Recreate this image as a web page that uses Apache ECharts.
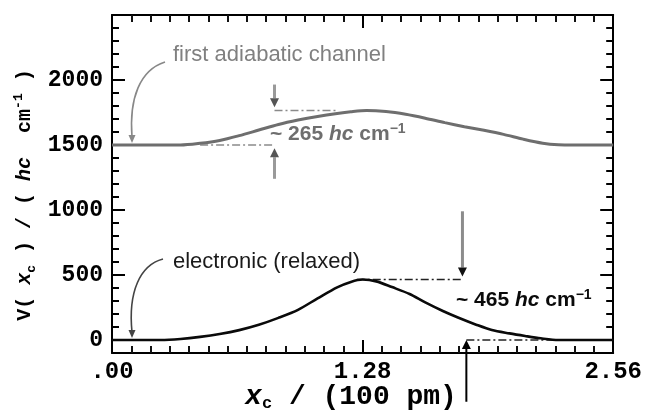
<!DOCTYPE html>
<html>
<head>
<meta charset="utf-8">
<script src="https://cdn.jsdelivr.net/npm/echarts@6/dist/echarts.min.js"></script>
<style>
  html, body { margin: 0; padding: 0; background: #fff; }
  #chart { width: 645px; height: 418px; }
</style>
</head>
<body>
<div id="chart"></div>
<script>
// Reaction coordinate x_c (units of 100 pm) and potential V (hc cm^-1)

// first adiabatic channel
const adiabaticX = [0, 0.35, 0.45, 0.55, 0.65, 0.75, 0.85, 0.95, 1.05, 1.15, 1.22, 1.30, 1.40, 1.50, 1.60, 1.70, 1.80, 1.90, 2.00, 2.10, 2.20, 2.28, 2.36, 2.56];
const adiabaticV = [1500, 1500, 1513, 1535, 1572, 1615, 1658, 1692, 1720, 1743, 1756, 1765, 1757, 1736, 1706, 1672, 1641, 1613, 1582, 1545, 1514, 1502, 1500, 1500];

// electronic (relaxed) potential
const electronicX = [0, 0.25, 0.35, 0.45, 0.55, 0.65, 0.75, 0.85, 0.95, 1.05, 1.15, 1.22, 1.28, 1.35, 1.43, 1.52, 1.60, 1.69, 1.77, 1.86, 1.94, 2.03, 2.11, 2.19, 2.28, 2.56];
const electronicV = [0, 0, 8, 24, 46, 76, 117, 170, 232, 320, 405, 447, 465, 451, 407, 354, 289, 223, 171, 118, 77, 51, 31, 13, 0, 0];

// barrier heights (asymptote, barrier top)
const adiabaticBarrier = [1500, 1765];
const electronicBarrier = [0, 465];

// axis ticks and labels
const xTickValues = [0, 1.28, 2.56];
const xTickLabels = ['.00', '1.28', '2.56'];
const yLabelValues = [0, 500, 1000, 1500, 2000];
const yTickLabels = ['0', '500', '1000', '1500', '2000'];

const monoFont = '"Liberation Mono", "DejaVu Sans Mono", monospace';
const sansFont = '"Liberation Sans", Arial, sans-serif';

const chart = echarts.init(document.getElementById('chart'), null, { renderer: 'canvas' });

function xAxisCfg(position, withLabels) {
  return {
    type: 'value', position: position, min: 0, max: 2.56, interval: 1.28,
    axisLine: { show: true, onZero: false, lineStyle: { color: '#000', width: 2 } },
    axisTick: { show: true, inside: true, length: 13, lineStyle: { color: '#000', width: 2 } },
    minorTick: { show: true, splitNumber: 13, length: 7, lineStyle: { color: '#111', width: 2 } },
    splitLine: { show: false }, minorSplitLine: { show: false },
    axisLabel: withLabels ? {
      show: true, margin: 7, color: '#000', fontFamily: monoFont, fontWeight: 'bold', fontSize: 24,
      showMinLabel: true, showMaxLabel: true,
      formatter: function (v) {
        const i = xTickValues.findIndex(t => Math.abs(t - v) < 1e-6);
        return i >= 0 ? xTickLabels[i] : '';
      }
    } : { show: false }
  };
}

function yAxisCfg(position, major, withLabels) {
  const cfg = {
    type: 'value', position: position, min: -100, max: 2500, interval: 100,
    axisLine: { show: !major, onZero: false, lineStyle: { color: '#000', width: 2 } },
    axisTick: { show: true, inside: true, length: major ? 13 : 7, lineStyle: { color: '#000', width: 2 } },
    splitLine: { show: false },
    axisLabel: { show: false }
  };
  if (major) cfg.axisTick.customValues = yLabelValues;
  if (withLabels) {
    cfg.axisLabel = {
      show: true, margin: 9, color: '#000', fontFamily: monoFont, fontWeight: 'bold', fontSize: 23,
      customValues: yLabelValues,
      formatter: function (v) {
        const i = yLabelValues.indexOf(v);
        return i >= 0 ? yTickLabels[i] : '';
      }
    };
  }
  return cfg;
}

const pairs = (xs, ys) => xs.map((x, i) => [x, ys[i]]);

// horizontal extents (in x_c) of the dash-dot barrier guides
const guideSpan = {
  adiabaticLow: [0.45, 0.83], adiabaticHigh: [0.83, 1.15],
  electronicHigh: [1.25, 1.79], electronicLow: [1.81, 2.56]
};
const dashDot = [8, 3, 2, 3];

function guide(span, level, color) {
  return {
    type: 'line', xAxisIndex: 0, yAxisIndex: 0, silent: true, showSymbol: false, symbol: 'none',
    data: [[span[0], level], [span[1], level]],
    lineStyle: { color: color, width: 1.6, type: dashDot }, z: 3
  };
}

chart.setOption({
  animation: false,
  backgroundColor: '#fff',
  grid: { left: 112, right: 29, top: 15, bottom: 65 },
  xAxis: [xAxisCfg('bottom', true), xAxisCfg('top', false)],
  yAxis: [yAxisCfg('left', false, true), yAxisCfg('left', true, false),
          yAxisCfg('right', false, false), yAxisCfg('right', true, false)],
  series: [
    { name: 'first adiabatic channel', type: 'line', xAxisIndex: 0, yAxisIndex: 0,
      data: pairs(adiabaticX, adiabaticV), smooth: 0.3,
      showSymbol: false, symbol: 'none', lineStyle: { color: '#6e6e6e', width: 3 }, z: 4 },
    { name: 'electronic (relaxed)', type: 'line', xAxisIndex: 0, yAxisIndex: 0,
      data: pairs(electronicX, electronicV), smooth: 0.3,
      showSymbol: false, symbol: 'none', lineStyle: { color: '#0a0a0a', width: 2.6 }, z: 4 },
    guide(guideSpan.adiabaticLow, adiabaticBarrier[0], '#8a8a8a'),
    guide(guideSpan.adiabaticHigh, adiabaticBarrier[1], '#8a8a8a'),
    guide(guideSpan.electronicHigh, electronicBarrier[1], '#222'),
    guide(guideSpan.electronicLow, electronicBarrier[0], '#222')
  ]
});

// ---- annotations: arrows and labels ----
const toPx = (x, y) => chart.convertToPixel({ xAxisIndex: 0, yAxisIndex: 0 }, [x, y]);

function vArrow(x, fromV, tipV, lineColor, headColor, width) {
  const a = toPx(x, fromV), b = toPx(x, tipV);
  const dir = b[1] > a[1] ? 1 : -1;
  const headLen = 9, headHalf = 4.5;
  return [
    { type: 'line', silent: true, z: 50,
      shape: { x1: a[0], y1: a[1], x2: b[0], y2: b[1] - dir * headLen },
      style: { stroke: lineColor, lineWidth: width } },
    { type: 'polygon', silent: true, z: 51,
      shape: { points: [[b[0], b[1]], [b[0] - headHalf, b[1] - dir * headLen], [b[0] + headHalf, b[1] - dir * headLen]] },
      style: { fill: headColor } }
  ];
}

function curvedArrow(p0, c1, c2, p1, color) {
  return [
    { type: 'bezierCurve', silent: true, z: 50,
      shape: { x1: p0[0], y1: p0[1], cpx1: c1[0], cpy1: c1[1], cpx2: c2[0], cpy2: c2[1], x2: p1[0], y2: p1[1] - 6 },
      style: { stroke: color, lineWidth: 1.6, fill: null } },
    { type: 'polygon', silent: true, z: 51,
      shape: { points: [[p1[0], p1[1]], [p1[0] - 3.5, p1[1] - 8], [p1[0] + 3.5, p1[1] - 8]] },
      style: { fill: color } }
  ];
}

function barrierText(x, y, value, color) {
  return {
    type: 'text', silent: true, z: 60, x: x, y: y,
    style: {
      text: '{t|~ ' + value + ' }{i|hc}{t| cm}{s|−1}',
      verticalAlign: 'middle', align: 'left', fill: color,
      rich: {
        t: { fontFamily: sansFont, fontWeight: 'bold', fontSize: 21, lineHeight: 24, fill: color },
        i: { fontFamily: sansFont, fontWeight: 'bold', fontStyle: 'italic', fontSize: 21, lineHeight: 24, fill: color },
        s: { fontFamily: sansFont, fontWeight: 'bold', fontSize: 14, lineHeight: 14, verticalAlign: 'top', fill: color }
      }
    }
  };
}

const arrowX = { adiabatic: 0.83, electronicDown: 1.79, electronicUp: 1.81 };

// make sure the axis elements are laid out before annotations are added
chart.getZr().storage.getDisplayList(true);

const graphics = [].concat(
  vArrow(arrowX.adiabatic, 1965, 1790, '#9a9a9a', '#555', 3),
  vArrow(arrowX.adiabatic, 1240, 1475, '#9a9a9a', '#555', 3),
  vArrow(arrowX.electronicDown, 990, 488, '#8c8c8c', '#111', 3),
  vArrow(arrowX.electronicUp, -475, 0, '#000', '#000', 2),
  curvedArrow([165, 62], [140, 70], [129, 98], [132, 143], '#888'),
  curvedArrow([163, 259], [140, 265], [128, 292], [132, 338], '#444'),
  [
    { type: 'text', silent: true, z: 60, x: 173, y: 55,
      style: { text: 'first adiabatic channel', fontFamily: sansFont, fontSize: 22, fill: '#808080', verticalAlign: 'middle' } },
    { type: 'text', silent: true, z: 60, x: 173, y: 262,
      style: { text: 'electronic (relaxed)', fontFamily: sansFont, fontSize: 22, fill: '#1a1a1a', verticalAlign: 'middle' } },
    barrierText(270, 134, 265, '#6e6e6e'),
    barrierText(456, 300, 465, '#0a0a0a'),
    // x-axis title
    { type: 'text', silent: true, z: 60, x: 351, y: 397,
      style: {
        text: '{v|x}{sub|c}{t| / (100 pm)}', align: 'center', verticalAlign: 'middle',
        rich: {
          v: { fontFamily: monoFont, fontWeight: 'bold', fontStyle: 'italic', fontSize: 28, lineHeight: 30, fill: '#000' },
          sub: { fontFamily: monoFont, fontWeight: 'bold', fontSize: 17, lineHeight: 17, verticalAlign: 'bottom', fill: '#000' },
          t: { fontFamily: monoFont, fontWeight: 'bold', fontSize: 28, lineHeight: 30, fill: '#000' }
        }
      } },
    // y-axis title
    { type: 'text', silent: true, z: 60, x: 25, y: 195, rotation: Math.PI / 2,
      style: {
        text: '{t|V( }{v|x}{sub|c}{t| ) / ( }{v|hc}{t|  cm}{sup|-1}{t| )}', align: 'center', verticalAlign: 'middle',
        rich: {
          t: { fontFamily: monoFont, fontWeight: 'bold', fontSize: 20, lineHeight: 26, fill: '#000' },
          v: { fontFamily: monoFont, fontWeight: 'bold', fontStyle: 'italic', fontSize: 20, lineHeight: 26, fill: '#000' },
          sub: { fontFamily: monoFont, fontWeight: 'bold', fontSize: 13, lineHeight: 13, verticalAlign: 'bottom', fill: '#000' },
          sup: { fontFamily: monoFont, fontWeight: 'bold', fontSize: 13, lineHeight: 13, verticalAlign: 'top', fill: '#000' }
        }
      } }
  ]
);

chart.setOption({ graphic: graphics });
</script>
</body>
</html>
